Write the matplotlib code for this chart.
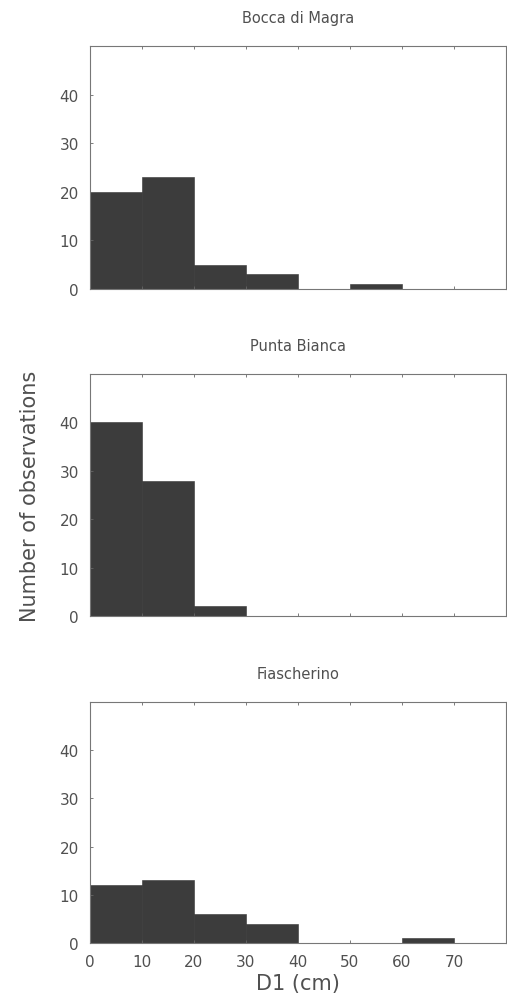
import matplotlib.pyplot as plt
import numpy as np

plt.rcParams["font.family"] = "DejaVu Sans"

# Histogram of D1 (cm), bins of 10 cm from 0 to 80
bin_edges = [0, 10, 20, 30, 40, 50, 60, 70, 80]
sites = ["Bocca di Magra", "Punta Bianca", "Fiascherino"]
bocca_di_magra = [20, 23, 5, 3, 0, 1, 0, 0]
punta_bianca = [40, 28, 2, 0, 0, 0, 0, 0]
fiascherino = [12, 13, 6, 4, 0, 0, 1, 0]
counts = [bocca_di_magra, punta_bianca, fiascherino]

y_ticks = [0, 10, 20, 30, 40]
x_ticks = [0, 10, 20, 30, 40, 50, 60, 70]

fig = plt.figure(figsize=(5.07, 10.03), dpi=100)
rects = [
    [0.1775, 0.7109, 0.8205, 0.2423],
    [0.1775, 0.3848, 0.8205, 0.2413],
    [0.1775, 0.0588, 0.8205, 0.2403],
]

bar_color = "#3c3c3c"
text_color = "#505050"
edges = np.array(bin_edges)

for i, (rect, name, c) in enumerate(zip(rects, sites, counts)):
    ax = fig.add_axes(rect)
    ax.bar(edges[:-1], c, width=np.diff(edges), align="edge",
           color=bar_color, edgecolor="#353535", linewidth=0.4)
    ax.set_xlim(0, 80)
    ax.set_ylim(0, 50)
    ax.set_yticks(y_ticks)
    ax.set_xticks(x_ticks)
    ax.tick_params(direction="in", length=2.5, width=0.6, colors="#666666",
                   labelcolor=text_color, labelsize=11, top=True)
    ax.tick_params(axis="y", pad=8)
    ax.tick_params(axis="x", pad=8)
    for s in ax.spines.values():
        s.set_color("#777777")
        s.set_linewidth(0.8)
    if i < 2:
        ax.set_xticklabels([])
    ax.set_title(name, fontsize=10.5, color=text_color, pad=17)

    if i == 1:
        ax.set_ylabel("Number of observations", fontsize=15,
                      color=text_color, labelpad=14)
    if i == 2:
        ax.set_xlabel("D1 (cm)", fontsize=15, color=text_color, labelpad=3)

plt.savefig("out.png", dpi=100)
